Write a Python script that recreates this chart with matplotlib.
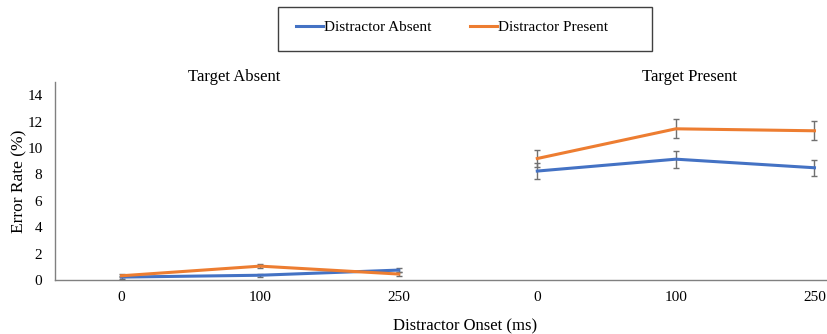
import numpy as np
import matplotlib.pyplot as plt
from matplotlib.lines import Line2D
from matplotlib.patches import Rectangle

plt.rcParams['font.family'] = ['Liberation Serif', 'DejaVu Serif']

# data
onsets = ["0", "100", "250", "0", "100", "250"]
groups = ["Target Absent", "Target Present"]

absent_mean = [0.22, 0.36, 0.75, 8.25, 9.15, 8.5]
absent_err = [0.12, 0.1, 0.18, 0.6, 0.65, 0.6]
present_mean = [0.32, 1.05, 0.45, 9.2, 11.45, 11.3]
present_err = [0.1, 0.14, 0.12, 0.65, 0.73, 0.73]

blue = "#4472C4"
orange = "#ED7D31"

fig = plt.figure(figsize=(8.28, 3.34), dpi=100)
ax = fig.add_axes([0.0664, 0.1617, 0.934, 0.593])

x = np.arange(len(onsets))
for mean, err, col in [(absent_mean, absent_err, blue), (present_mean, present_err, orange)]:
    for sl in (slice(0, 3), slice(3, 6)):
        ax.errorbar(x[sl], mean[sl], yerr=err[sl], color=col, lw=2.2,
                    ecolor="#707070", elinewidth=1, capsize=2.5, capthick=1, zorder=3)

ax.set_xlim(-0.48, 5.1)
ax.set_ylim(0, 15)
ax.set_yticks(range(0, 15, 2))
ax.set_xticks(x)
ax.set_xticklabels(onsets)
ax.tick_params(length=0, labelsize=11, pad=8)
ax.tick_params(axis="y", pad=9)
for s in ["top", "right"]:
    ax.spines[s].set_visible(False)
for s in ["left", "bottom"]:
    ax.spines[s].set_color("#808080")
    ax.spines[s].set_linewidth(1)

# group titles sit a little off the group centres in the original
ax.text(0.81, 14.75, groups[0], ha="center", va="bottom", fontsize=12)
ax.text(4.10, 14.75, groups[1], ha="center", va="bottom", fontsize=12)

ax.set_ylabel("Error Rate (%)", fontsize=12.5, labelpad=0)
ax.set_xlabel("Distractor Onset (ms)", fontsize=12, labelpad=10, x=0.53)

# legend frame drawn by hand (uneven padding in the original)
fig.patches.append(Rectangle((278 / 828, 1 - 51 / 334), 374 / 828, 44 / 334,
                             transform=fig.transFigure, fill=False,
                             edgecolor="#404040", lw=1))
handles = [Line2D([], [], color=blue, lw=2.2), Line2D([], [], color=orange, lw=2.2)]
fig.legend(handles, ["Distractor Absent", "Distractor Present"],
           loc="center left", bbox_to_anchor=(296 / 828, 1 - 27 / 334), ncol=2,
           fontsize=11, frameon=False, handlelength=1.8, handletextpad=0.05,
           columnspacing=2.5, borderpad=0, borderaxespad=0)

fig.savefig("out.png", dpi=100)
